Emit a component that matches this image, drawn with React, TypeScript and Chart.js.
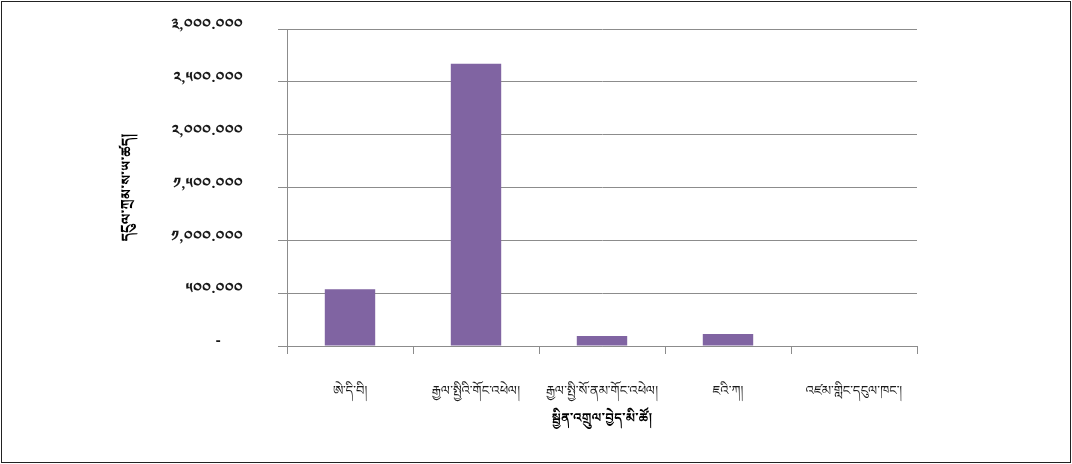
import React, { useEffect, useRef } from 'react';
import { Chart, registerables } from 'chart.js';

Chart.register(...registerables);

const categories = [
  'ཨེ་དི་བི།',
  'རྒྱལ་སྤྱིའི་གོང་འཕེལ།',
  'རྒྱལ་སྤྱི་སོ་ནམ་གོང་འཕེལ།',
  'ཇའི་ཀ།',
  'འཛམ་གླིང་དངུལ་ཁང་།',
];
const amounts = [538, 2670, 94, 113, 0];
const yTickValues = [0, 500, 1000, 1500, 2000, 2500, 3000];
const xTitle = 'སྦྱིན་འགྲུལ་བྱེད་མི་ཚོ།';
const yTitle = 'དངུལ་ཀྲམ་ས་ཡ་ཚད།';

const FONT = "'Microsoft Himalaya', 'Noto Serif Tibetan', 'Noto Sans Tibetan', Jomolhari, 'Tibetan Machine Uni', 'DejaVu Sans', sans-serif";

const toTibetanDigits = (s: string) =>
  s.replace(/[0-9]/g, (d) => String.fromCharCode(0x0f20 + Number(d)));

const formatTick = (v: number) => {
  if (v === 0) return '-\u2003\u2002';
  return toTibetanDigits(
    v.toLocaleString('en-US', { minimumFractionDigits: 3, maximumFractionDigits: 3 })
  );
};

const borderPlugin = {
  id: 'outerBorder',
  afterDraw(chart: any) {
    const ctx = chart.ctx;
    ctx.save();
    ctx.strokeStyle = '#222222';
    ctx.lineWidth = 1;
    ctx.strokeRect(1.5, 1.5, chart.width - 3, chart.height - 3);
    ctx.restore();
  },
};

export default function App() {
  const ref = useRef<HTMLCanvasElement | null>(null);

  useEffect(() => {
    if (!ref.current) return;
    const chart = new Chart(ref.current, {
      type: 'bar',
      data: {
        labels: categories,
        datasets: [
          {
            data: amounts,
            backgroundColor: '#8064A2',
            borderWidth: 0,
            barPercentage: 0.4,
            categoryPercentage: 1,
          },
        ],
      },
      options: {
        animation: false,
        responsive: false,
        devicePixelRatio: 1,
        layout: { padding: { left: 122, right: 155, top: 29, bottom: 22 } },
        plugins: {
          legend: { display: false },
          tooltip: { enabled: false },
        },
        scales: {
          x: {
            grid: {
              display: true,
              drawOnChartArea: false,
              drawTicks: true,
              tickLength: 8,
              offset: true,
              color: '#8c8c8c',
            },
            border: { display: true, color: '#8c8c8c' },
            ticks: {
              padding: 33,
              color: '#1a1a1a',
              font: { family: FONT, size: 13 },
              maxRotation: 0,
              autoSkip: false,
            },
            title: {
              display: true,
              text: xTitle,
              color: '#000000',
              font: { family: FONT, size: 13, weight: 'bold' },
              padding: { top: 0, bottom: 12 },
            },
            afterFit: (scale: any) => {
              scale.height = 464 - 346 - 22;
            },
          },
          y: {
            min: 0,
            max: 3000,
            afterBuildTicks: (scale: any) => {
              scale.ticks = yTickValues.map((v) => ({ value: v }));
            },
            grid: {
              color: '#8c8c8c',
              drawTicks: true,
              tickLength: 9,
            },
            border: { display: true, color: '#8c8c8c' },
            ticks: {
              padding: 35,
              color: '#1a1a1a',
              font: { family: FONT, size: 15, weight: 'bold' },
              callback: (v: any) => formatTick(Number(v)),
            },
            title: {
              display: true,
              text: yTitle,
              color: '#000000',
              font: { family: FONT, size: 14, weight: 'bold' },
              padding: { top: 0, bottom: 0 },
            },
            afterFit: (scale: any) => {
              scale.width = 287 - 122;
              scale.paddingTop = 0;
              scale.paddingBottom = 0;
            },
          },
        },
      },
      plugins: [borderPlugin],
    });
    return () => chart.destroy();
  }, []);

  return (
    <div style={{ position: 'fixed', left: 0, top: 0, width: 1072, height: 464, background: '#ffffff' }}>
      <canvas ref={ref} width={1072} height={464} style={{ display: 'block' }} />
    </div>
  );
}
